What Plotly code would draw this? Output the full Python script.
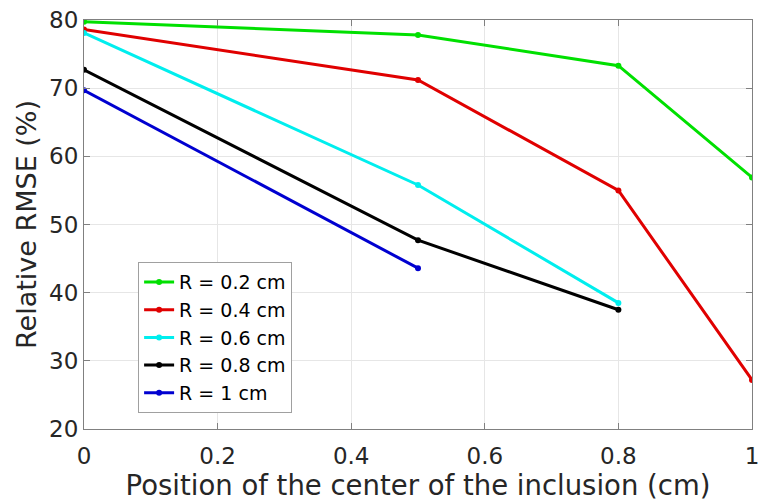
import plotly.graph_objects as go

x_pos = [0, 0.5, 0.8, 1]
names = ["R = 0.2 cm", "R = 0.4 cm", "R = 0.6 cm", "R = 0.8 cm", "R = 1 cm"]
colors = ["#00e000", "#e00000", "#00eeee", "#000000", "#0000d0"]
y_r02 = [79.75, 77.8, 73.3, 56.9]
y_r04 = [78.6, 71.2, 55.0, 27.2]
y_r06 = [78.1, 55.8, 38.5]
y_r08 = [72.7, 47.7, 37.5]
y_r10 = [69.7, 43.6]
series = [y_r02, y_r04, y_r06, y_r08, y_r10]

fig = go.Figure()
for n, c, ys in zip(names, colors, series):
    fig.add_trace(go.Scatter(x=x_pos[:len(ys)], y=ys, name=n, mode="lines+markers",
                             line=dict(color=c, width=3), marker=dict(color=c, size=6)))

font = "DejaVu Sans"
fig.update_layout(
    template="none",
    width=763, height=503,
    margin=dict(l=84, r=11, t=20, b=74),
    paper_bgcolor="white", plot_bgcolor="white",
    font=dict(family=font, color="#262626"),
    showlegend=True,
    legend=dict(x=0.081, y=0.408, xanchor="left", yanchor="top",
                bgcolor="white", bordercolor="#a0a0a0", borderwidth=1,
                font=dict(size=19, color="#000000", family=font),
                itemwidth=30, tracegroupgap=0),
    xaxis=dict(range=[0, 1], tickvals=[0, 0.2, 0.4, 0.6, 0.8, 1],
               ticktext=["0", "0.2", "0.4", "0.6", "0.8", "1"],
               automargin=False, ticklabelstandoff=6,
               showgrid=True, gridcolor="#e6e6e6", gridwidth=1,
               showline=True, linecolor="#808080", linewidth=1, mirror="ticks",
               ticks="inside", ticklen=6, tickcolor="#808080",
               tickfont=dict(size=23), zeroline=False,
               title=dict(text="Position of the center of the inclusion (cm)",
                          font=dict(size=27.5), standoff=0)),
    yaxis=dict(range=[20, 80], tickvals=[20, 30, 40, 50, 60, 70, 80],
               automargin=False,
               showgrid=True, gridcolor="#e6e6e6", gridwidth=1,
               showline=True, linecolor="#808080", linewidth=1, mirror="ticks",
               ticks="inside", ticklen=6, tickcolor="#808080",
               tickfont=dict(size=23), zeroline=False,
               title=dict(text="Relative RMSE (%)", font=dict(size=27), standoff=4)),
)
fig.write_html("out.html")
